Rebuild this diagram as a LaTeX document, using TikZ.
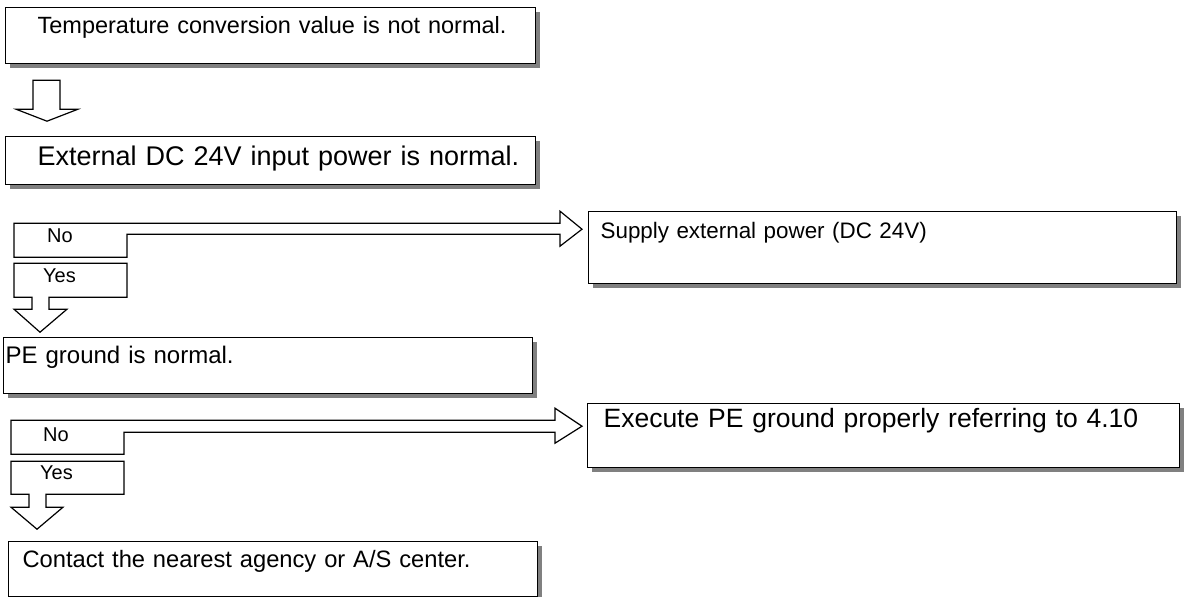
\documentclass[tikz,border=0pt]{standalone}
\usepackage{fontspec}
\setmainfont{Liberation Sans}
\usepackage{xcolor}
\usepackage{tikz}
\usetikzlibrary{calc}
\usetikzlibrary{positioning, shadows}

\begin{document}
\begin{tikzpicture}[x=1pt, y=-1pt,
  box/.style={draw, line width=1.2pt, fill=white, anchor=north west,
    inner sep=0pt, align=left,
    drop shadow={shadow xshift=4pt, shadow yshift=-4pt, fill=black!50, opacity=1}},
  hollow/.style={draw, line width=1.2pt, fill=white, line join=miter},
  answer/.style={anchor=base west, inner sep=0pt, font=\fontsize{20}{24}\selectfont}]
  \useasboundingbox (0,0) rectangle (1184,597);

  % left column of checks
  \node[box, text width=530pt, text height=26pt, text depth=30pt,
        font=\fontsize{23.5}{28}\selectfont] (temp) at (5,7)
        {\hspace*{32pt}Temperature conversion value is not normal.};
  \node[box, text width=530pt, text height=29pt, text depth=19pt,
        font=\fontsize{27}{32}\selectfont] (power) at (5,136)
        {\hspace*{32pt}External DC 24V input power is normal.};
  \node[box, text width=529pt, text height=26pt, text depth=30pt,
        font=\fontsize{24}{28}\selectfont] (ground) at (3,337)
        {\hspace*{2pt}PE ground is normal.};
  \node[box, text width=529pt, text height=26pt, text depth=29pt,
        font=\fontsize{23.7}{28}\selectfont] (agency) at (8,541)
        {\hspace*{14pt}Contact the nearest agency or A/S center.};

  % actions on the right
  \node[box, text width=588pt, text height=27pt, text depth=45pt,
        font=\fontsize{22.4}{27}\selectfont] (supply) at (588,211)
        {\hspace*{12pt}Supply external power (DC 24V)};
  \node[box, text width=592pt, text height=24pt, text depth=40pt,
        font=\fontsize{26.5}{31}\selectfont] (execute) at (587,403)
        {\hspace*{16pt}Execute PE ground properly referring to 4.10};

  % temp -> power
  \draw[hollow] ($(temp.south west)+(28,16)$) -- ++(27,0) -- ++(0,29) -- ++(18,0)
    -- ++(-31,12) -- ++(-31,-12) -- ++(17,0) -- cycle;

  % power: No -> supply
  \draw[hollow] ($(power.south west)+(9,38)$) -- ++(546,0) -- ++(0,-12) -- ++(22,18)
    -- ++(-22,17) -- ++(0,-12) -- ++(-433,0) -- ++(0,23) -- ++(-113,0) -- cycle;
  % power: Yes -> ground
  \draw[hollow] ($(power.south west)+(9,78)$) -- ++(113,0) -- ++(0,34) -- ++(-78,0)
    -- ++(0,12) -- ++(18,0) -- ++(-27,23) -- ++(-26,-23) -- ++(18,0)
    -- ++(0,-12) -- ++(-18,0) -- cycle;
  \node[answer] (no1) at (47,242.5) {No};
  \node[answer] (yes1) at (43,282) {Yes};

  % ground: No -> execute
  \draw[hollow] ($(ground.south west)+(8,26)$) -- ++(544,0) -- ++(0,-12) -- ++(27,18)
    -- ++(-27,17) -- ++(0,-11) -- ++(-431,0) -- ++(0,22) -- ++(-113,0) -- cycle;
  % ground: Yes -> agency
  \draw[hollow] ($(ground.south west)+(8,67)$) -- ++(113,0) -- ++(0,33) -- ++(-78,0)
    -- ++(0,13) -- ++(17,0) -- ++(-26,22) -- ++(-26,-22) -- ++(18,0)
    -- ++(0,-13) -- ++(-18,0) -- cycle;
  \node[answer] (no2) at (43,441) {No};
  \node[answer] (yes2) at (40,479) {Yes};
\end{tikzpicture}
\end{document}
